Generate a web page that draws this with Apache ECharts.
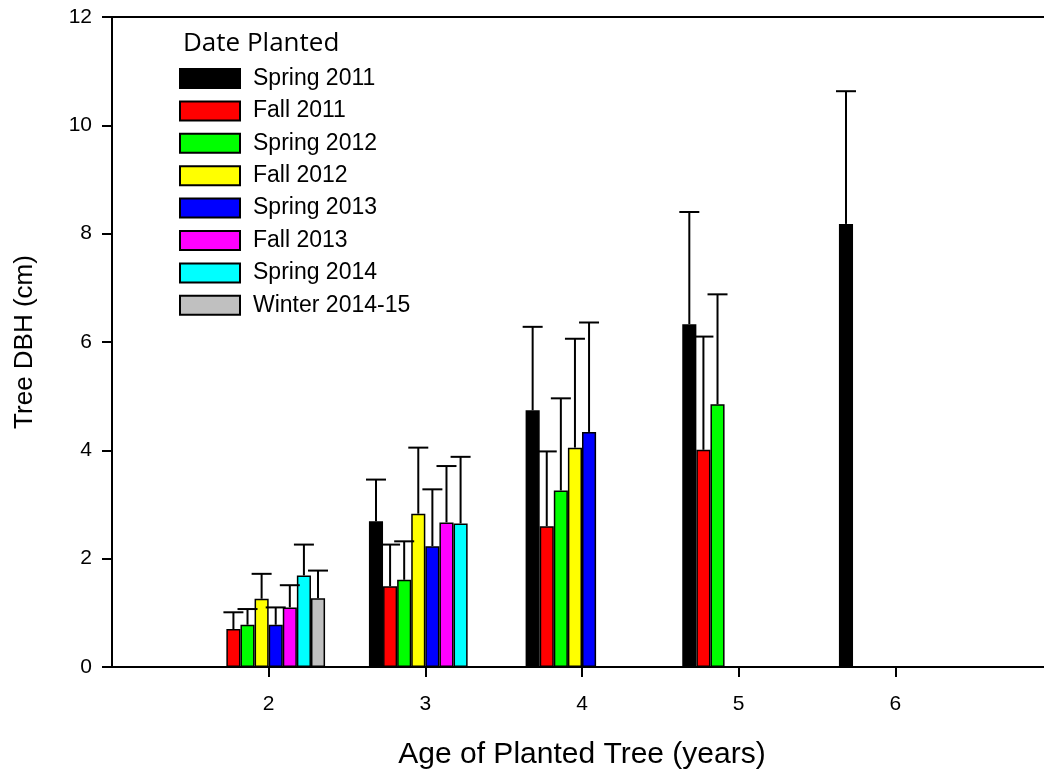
<!DOCTYPE html>
<html>
<head>
<meta charset="utf-8">
<title>Tree DBH by age and planting date</title>
<script src="https://cdn.jsdelivr.net/npm/echarts@6/dist/echarts.min.js"></script>
<style>
  html, body { margin: 0; padding: 0; background: #ffffff; }
  #chart { width: 1044px; height: 780px; }
</style>
</head>
<body>
<div id="chart"></div>
<script>
// Age of planted tree (years); the axis runs from 1 to 7 with ticks at 2..6
const axisAges = ['1', '2', '3', '4', '5', '6', '7'];
const shownAges = ['2', '3', '4', '5', '6'];

// Planting cohorts and their bar colours
const cohorts = ['Spring 2011', 'Fall 2011', 'Spring 2012', 'Fall 2012',
                 'Spring 2013', 'Fall 2013', 'Spring 2014', 'Winter 2014-15'];
const colors = ['#000000', '#ff0000', '#00ff00', '#ffff00',
                '#0000ff', '#ff00ff', '#00ffff', '#c0c0c0'];

// Mean DBH (cm) per cohort at ages 2..6 (null = not measured)
const spring2011 = [null, 2.69, 4.74, 6.33, 8.18];
const fall2011 = [0.70, 1.49, 2.60, 4.01, null];
const spring2012 = [0.78, 1.61, 3.26, 4.85, null];
const fall2012 = [1.26, 2.83, 4.05, null, null];
const spring2013 = [0.78, 2.23, 4.34, null, null];
const fall2013 = [1.10, 2.67, null, null, null];
const spring2014 = [1.69, 2.65, null, null, null];
const winter2014 = [1.27, null, null, null, null];

// Upper end of the error bar (mean + SD, cm) for the same cells
const spring2011Up = [null, 3.46, 6.28, 8.40, 10.63];
const fall2011Up = [1.01, 2.26, 3.98, 6.10, null];
const spring2012Up = [1.07, 2.32, 4.96, 6.88, null];
const fall2012Up = [1.72, 4.05, 6.06, null, null];
const spring2013Up = [1.10, 3.28, 6.36, null, null];
const fall2013Up = [1.51, 3.71, null, null, null];
const spring2014Up = [2.26, 3.88, null, null, null];
const winter2014Up = [1.78, null, null, null, null];

const yTicks = [0, 2, 4, 6, 8, 10, 12];

const means = [spring2011, fall2011, spring2012, fall2012, spring2013, fall2013, spring2014, winter2014];
const uppers = [spring2011Up, fall2011Up, spring2012Up, fall2012Up, spring2013Up, fall2013Up, spring2014Up, winter2014Up];

const GROUP_FRACTION = 0.72; // share of each category band taken by the bar group
const N = cohorts.length;

// Pad each cohort to the full axis (age 1 and age 7 stay empty)
function padToAxis(arr) {
  return [null].concat(arr).concat([null]);
}

const barSeries = cohorts.map((name, s) => ({
  name: name,
  type: 'bar',
  data: padToAxis(means[s]),
  barGap: '0%',
  barCategoryGap: ((1 - GROUP_FRACTION) * 100) + '%',
  itemStyle: { color: colors[s], borderColor: '#000', borderWidth: 1.5 },
  emphasis: { disabled: true },
  silent: true
}));

// Error bar records: [category index, mean, upper, cohort index]
const errData = [];
means.forEach((arr, s) => {
  arr.forEach((v, a) => {
    if (v != null && uppers[s][a] != null) {
      errData.push([a + 1, v, uppers[s][a], s]);
    }
  });
});

const errorSeries = {
  type: 'custom',
  name: 'errors',
  data: errData,
  encode: { x: 0, y: [1, 2] },
  silent: true,
  z: 5,
  renderItem: function (params, api) {
    const ci = api.value(0);
    const base = api.coord([ci, api.value(1)]);
    const top = api.coord([ci, api.value(2)]);
    const band = api.size([1, 0])[0];
    const slot = band * GROUP_FRACTION / N;
    const x = base[0] + (api.value(3) - (N - 1) / 2) * slot;
    const cap = 10;
    return {
      type: 'group',
      children: [
        { type: 'line', shape: { x1: x, y1: base[1], x2: x, y2: top[1] },
          style: { stroke: '#000', lineWidth: 2 } },
        { type: 'line', shape: { x1: x - cap, y1: top[1], x2: x + cap, y2: top[1] },
          style: { stroke: '#000', lineWidth: 2 } }
      ]
    };
  }
};

const chart = echarts.init(document.getElementById('chart'), null, { renderer: 'canvas' });

chart.setOption({
  backgroundColor: '#ffffff',
  animation: false,
  title: {
    text: 'Date Planted',
    left: 178,
    top: 26,
    textStyle: { fontFamily: 'Open Sans', fontSize: 26, fontWeight: 'normal', color: '#000' }
  },
  legend: {
    data: cohorts,
    orient: 'vertical',
    left: 174,
    top: 62,
    icon: 'rect',
    itemWidth: 60,
    itemHeight: 19,
    itemGap: 9.4,
    selectedMode: false,
    itemStyle: { borderColor: '#000', borderWidth: 2 },
    textStyle: { fontFamily: 'Liberation Sans', fontSize: 23, color: '#000', padding: [0, 0, 0, 8] }
  },
  grid: {
    left: 112,
    top: 17,
    width: 940,
    bottom: 113,
    outerBoundsMode: 'none',
    show: true,
    borderColor: '#000',
    borderWidth: 2,
    containLabel: false
  },
  xAxis: {
    type: 'category',
    data: axisAges,
    boundaryGap: false,
    name: 'Age of Planted Tree (years)',
    nameLocation: 'middle',
    nameGap: 73,
    nameTextStyle: { fontFamily: 'Liberation Sans', fontSize: 30, color: '#000' },
    axisLine: { lineStyle: { color: '#000', width: 2 } },
    axisTick: {
      length: 10,
      lineStyle: { color: '#000', width: 2 },
      interval: function (idx, val) { return shownAges.indexOf(val) >= 0; }
    },
    axisLabel: {
      interval: function (idx, val) { return shownAges.indexOf(val) >= 0; },
      margin: 27,
      fontFamily: 'Liberation Sans',
      fontSize: 21,
      color: '#000'
    },
    splitLine: { show: false }
  },
  yAxis: {
    type: 'value',
    min: yTicks[0],
    max: yTicks[yTicks.length - 1],
    interval: 2,
    name: 'Tree DBH (cm)',
    nameLocation: 'middle',
    nameGap: 74,
    nameTextStyle: { fontFamily: 'Liberation Sans', fontSize: 26, color: '#000' },
    axisLine: { show: true, lineStyle: { color: '#000', width: 2 } },
    axisTick: { show: true, length: 10, lineStyle: { color: '#000', width: 2 } },
    axisLabel: { margin: 20, fontFamily: 'Liberation Sans', fontSize: 21, color: '#000' },
    splitLine: { show: false }
  },
  series: barSeries.concat([errorSeries])
});
</script>
</body>
</html>
